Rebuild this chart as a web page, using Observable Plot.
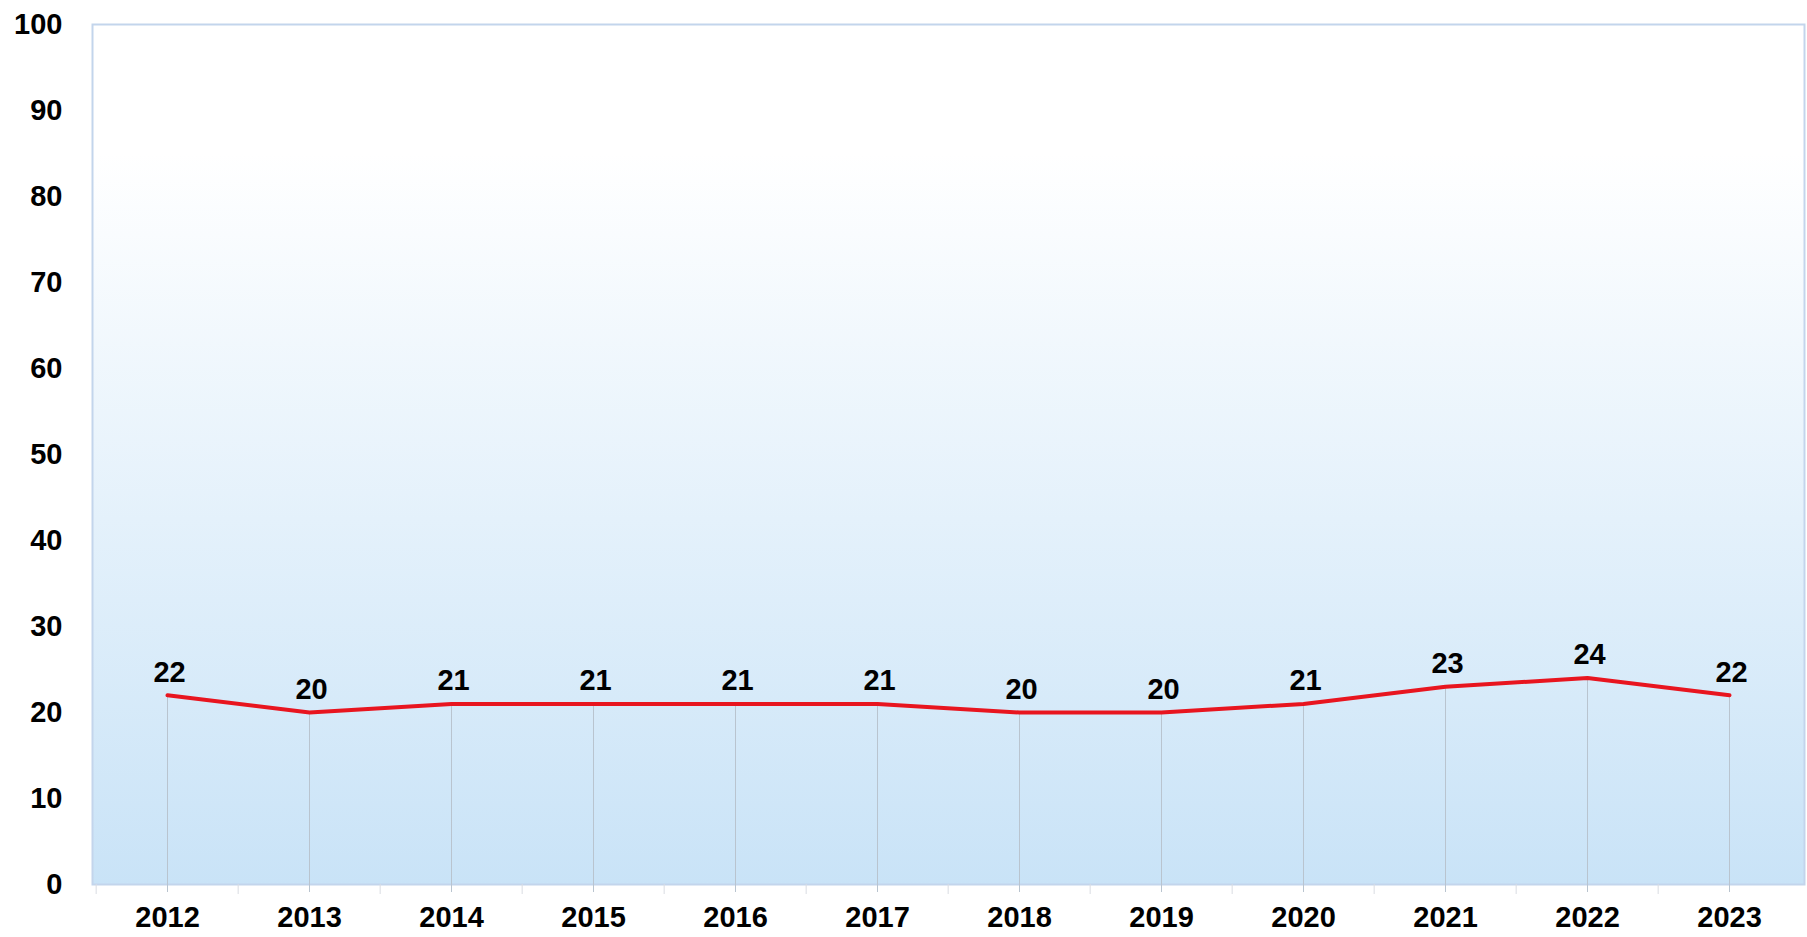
<!DOCTYPE html>
<html>
<head>
<meta charset="utf-8">
<script src="https://cdn.jsdelivr.net/npm/d3@7"></script>
<script src="https://cdn.jsdelivr.net/npm/@observablehq/plot@0.6"></script>
<style>
  html, body { margin: 0; padding: 0; background: #ffffff; }
  #chart svg { display: block; }
</style>
</head>
<body>
<div id="chart"></div>
<script>
const years = ["2012","2013","2014","2015","2016","2017","2018","2019","2020","2021","2022","2023"];
const values = [22, 20, 21, 21, 21, 21, 20, 20, 21, 23, 24, 22];
const yTicks = [0, 10, 20, 30, 40, 50, 60, 70, 80, 90, 100];

const data = years.map((y, i) => ({year: y, value: values[i]}));

const W = 1807, H = 937;
const ml = 92, mr = 3, mt = 24, mb = 53;
const bw = (W - ml - mr) / years.length;

const chart = Plot.plot({
  width: W,
  height: H,
  marginLeft: ml,
  marginRight: mr,
  marginTop: mt,
  marginBottom: mb,
  style: {fontFamily: "'Liberation Sans', Arial, sans-serif", fontSize: "29px", fontWeight: "bold", color: "#000", background: "#ffffff"},
  x: {type: "band", domain: years, padding: 0, label: null},
  y: {domain: [0, 100], label: null},
  marks: [
    Plot.frame({fill: "url(#bgGrad)", stroke: "#c3d5ec", strokeWidth: 2}),
    Plot.axisY({ticks: yTicks, tickSize: 0, tickPadding: 30, label: null, fill: "#000"}),
    Plot.axisX({ticks: years, tickSize: 10, text: null, dx: -bw / 2, stroke: "#d9dde2"}),
    Plot.axisX({ticks: years, tickSize: 8, tickPadding: 14, label: null, stroke: "#b9c4cf", fill: "#000", textAnchor: "middle"}),
    Plot.ruleX(data, {x: "year", y1: 0, y2: "value", stroke: "#b9c4cf", strokeWidth: 1}),
    Plot.line(data, {x: "year", y: "value", stroke: "#e8151f", strokeWidth: 4}),
    Plot.text(data, {x: "year", y: "value", text: d => String(d.value), dy: -23, dx: 2, fill: "#000", fontSize: 29, fontWeight: "bold"})
  ]
});

const ns = "http://www.w3.org/2000/svg";
const defs = document.createElementNS(ns, "defs");
const grad = document.createElementNS(ns, "linearGradient");
grad.setAttribute("id", "bgGrad");
grad.setAttribute("x1", "0"); grad.setAttribute("y1", "0");
grad.setAttribute("x2", "0"); grad.setAttribute("y2", "1");
[["0%", "#ffffff"], ["15%", "#ffffff"], ["100%", "#c9e3f7"]].forEach(([o, c]) => {
  const s = document.createElementNS(ns, "stop");
  s.setAttribute("offset", o);
  s.setAttribute("stop-color", c);
  grad.appendChild(s);
});
defs.appendChild(grad);
chart.insertBefore(defs, chart.firstChild);

document.getElementById("chart").appendChild(chart);
</script>
</body>
</html>
